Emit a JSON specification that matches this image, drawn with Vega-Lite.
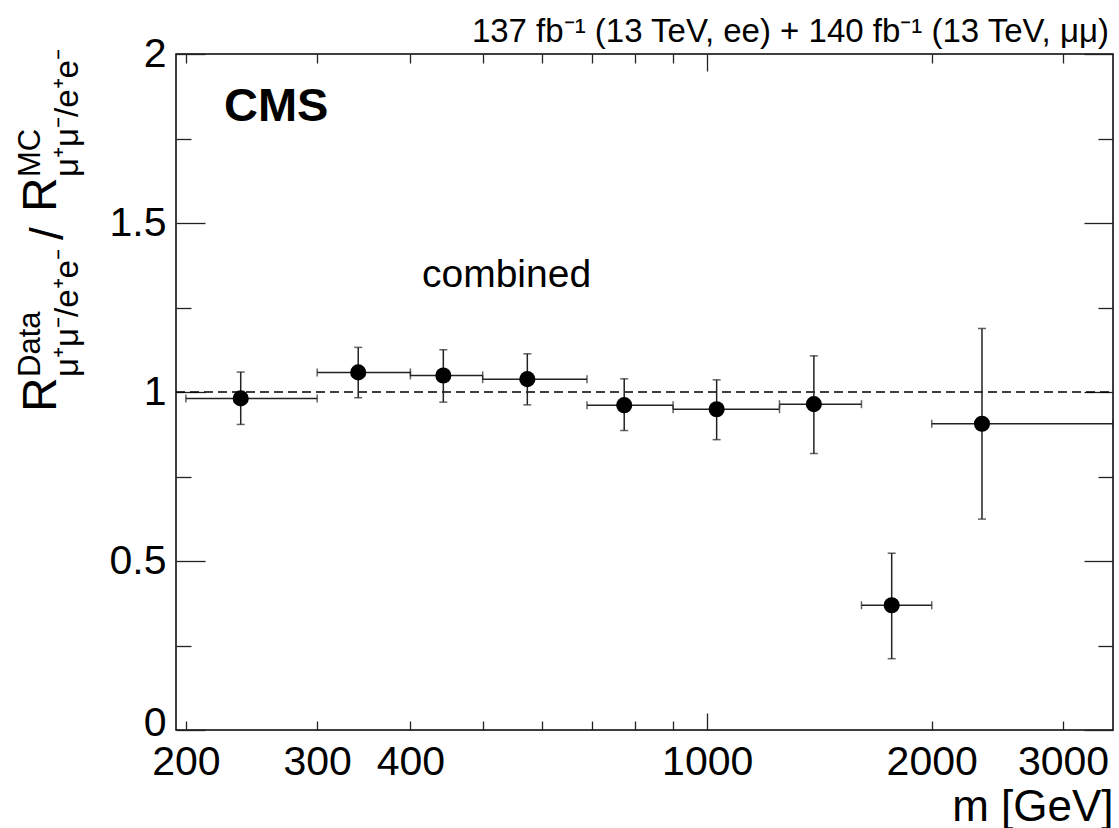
{
  "$schema": "https://vega.github.io/schema/vega-lite/v6.json",
  "autosize": {"type": "none"},
  "width": 937,
  "height": 676,
  "padding": {"left": 176, "top": 54, "right": 6, "bottom": 98},
  "background": "white",
  "config": {
    "view": {"stroke": "black", "strokeWidth": 1.5},
    "axis": {"domain": false, "grid": false, "tickColor": "#222", "tickWidth": 1.3, "labelFont": "Liberation Sans", "labelFontSize": 41, "labelColor": "black", "titleFont": "Liberation Sans", "titleColor": "black", "titleFontWeight": "normal"}
  },
  "datasets": {
    "pts": [
      {"m": 236.9, "lo_m": 200, "hi_m": 300, "r": 0.981, "r_lo": 0.904, "r_hi": 1.059},
      {"m": 340.5, "lo_m": 300, "hi_m": 400, "r": 1.058, "r_lo": 0.983, "r_hi": 1.132},
      {"m": 442.8, "lo_m": 400, "hi_m": 500, "r": 1.049, "r_lo": 0.970, "r_hi": 1.125},
      {"m": 573.9, "lo_m": 500, "hi_m": 690, "r": 1.038, "r_lo": 0.962, "r_hi": 1.113},
      {"m": 774, "lo_m": 690, "hi_m": 900, "r": 0.961, "r_lo": 0.886, "r_hi": 1.039},
      {"m": 1029.6, "lo_m": 900, "hi_m": 1250, "r": 0.949, "r_lo": 0.859, "r_hi": 1.036},
      {"m": 1390, "lo_m": 1250, "hi_m": 1610, "r": 0.964, "r_lo": 0.818, "r_hi": 1.107},
      {"m": 1767.5, "lo_m": 1610, "hi_m": 2000, "r": 0.369, "r_lo": 0.211, "r_hi": 0.523},
      {"m": 2335.7, "lo_m": 2000, "hi_m": 3500, "r": 0.906, "r_lo": 0.624, "r_hi": 1.188}
    ]
  },
  "resolve": {"axis": {"x": "independent", "y": "independent"}},
  "layer": [
    {
      "data": {"values": [{}]},
      "mark": {"type": "rule", "strokeDash": [9, 5], "strokeWidth": 1.5, "color": "black"},
      "encoding": {
        "x": {"datum": 194, "type": "quantitative", "scale": {"type": "log", "domain": [194, 3500], "nice": false}, "axis": {"orient": "bottom", "values": [200, 300, 400, 1000, 2000, 3000], "format": "d", "ticks": false, "tickSize": 0, "labelPadding": 12, "labelFlush": false, "labelOverlap": false, "title": "m [GeV]", "titleFontSize": 44, "titleAnchor": "end", "titleAlign": "right", "titleBaseline": "alphabetic", "titleY": 90}},
        "x2": {"datum": 3500},
        "y": {"datum": 1, "type": "quantitative", "scale": {"domain": [0, 2], "nice": false, "zero": false}, "axis": {"orient": "left", "values": [0, 0.5, 1, 1.5, 2], "format": "~g", "ticks": false, "tickSize": 0, "labelPadding": 10, "labelOffset": {"condition": {"test": "datum.value == 0", "value": -7}, "value": 0}, "labelFlush": false, "labelOverlap": false, "title": null}}
      }
    },
    {
      "data": {"name": "pts"},
      "mark": {"type": "errorbar", "ticks": true, "size": 8, "thickness": 1.5, "color": "#222"},
      "encoding": {
        "x": {"field": "lo_m", "type": "quantitative", "axis": {"orient": "bottom", "values": [200, 300, 400, 500, 600, 700, 800, 900, 2000, 3000], "tickSize": -9, "labels": false, "title": null}},
        "x2": {"field": "hi_m"},
        "y": {"field": "r", "type": "quantitative", "axis": {"orient": "left", "values": [0, 0.5, 1, 1.5, 2], "tickSize": -29, "labels": false, "title": null}}
      }
    },
    {
      "data": {"name": "pts"},
      "mark": {"type": "errorbar", "ticks": true, "size": 8, "thickness": 1.5, "color": "#222"},
      "encoding": {
        "x": {"field": "m", "type": "quantitative", "axis": {"orient": "bottom", "values": [1000], "tickSize": -17, "labels": false, "title": null}},
        "y": {"field": "r_lo", "type": "quantitative", "axis": {"orient": "left", "values": [0.25, 0.75, 1.25, 1.75], "tickSize": -15, "labels": false, "title": null}},
        "y2": {"field": "r_hi"}
      }
    },
    {
      "data": {"name": "pts"},
      "mark": {"type": "point", "filled": true, "shape": "circle", "size": 260, "color": "black", "opacity": 1},
      "encoding": {
        "x": {"field": "m", "type": "quantitative", "axis": {"orient": "top", "values": [200, 300, 400, 500, 600, 700, 800, 900, 2000, 3000], "tickSize": -9, "labels": false, "title": null}},
        "y": {"field": "r", "type": "quantitative", "axis": {"orient": "right", "values": [0, 0.5, 1, 1.5, 2], "tickSize": -29, "labels": false, "title": null}}
      }
    },
    {
      "data": {"values": [{}]},
      "mark": {"type": "text", "text": "CMS", "font": "Liberation Sans", "fontSize": 47, "fontWeight": "bold", "align": "left", "baseline": "alphabetic", "color": "black"},
      "encoding": {
        "x": {"datum": 225, "type": "quantitative", "axis": {"orient": "top", "values": [1000], "tickSize": -17, "labels": false, "title": null}},
        "y": {"datum": 1.802, "type": "quantitative", "axis": {"orient": "right", "values": [0.25, 0.75, 1.25, 1.75], "tickSize": -15, "labels": false, "title": null}}
      }
    },
    {
      "data": {"values": [{}]},
      "mark": {"type": "text", "text": "137 fb⁻¹ (13 TeV, ee) + 140 fb⁻¹ (13 TeV, μμ)", "font": "Liberation Sans", "fontSize": 33, "align": "right", "baseline": "alphabetic", "color": "black"},
      "encoding": {
        "x": {"datum": 3456, "type": "quantitative", "axis": null},
        "y": {"datum": 2.0355, "type": "quantitative", "axis": null}
      }
    },
    {
      "data": {"values": [{}]},
      "mark": {"type": "text", "text": "combined", "font": "Liberation Sans", "fontSize": 39, "align": "left", "baseline": "alphabetic", "color": "black"},
      "encoding": {
        "x": {"datum": 414.6, "type": "quantitative", "axis": null},
        "y": {"datum": 1.311, "type": "quantitative", "axis": null}
      }
    },
    {
      "data": {"values": [{}]},
      "mark": {"type": "text", "text": "R", "font": "Liberation Sans", "fontSize": 48, "angle": 270, "align": "left", "baseline": "alphabetic", "color": "black"},
      "encoding": {
        "x": {"datum": 133.9, "type": "quantitative", "axis": null},
        "y": {"datum": 0.941, "type": "quantitative", "axis": null}
      }
    },
    {
      "data": {"values": [{}]},
      "mark": {"type": "text", "text": "Data", "font": "Liberation Sans", "fontSize": 31, "angle": 270, "align": "left", "baseline": "alphabetic", "color": "black"},
      "encoding": {
        "x": {"datum": 127.5, "type": "quantitative", "axis": null},
        "y": {"datum": 1.0444, "type": "quantitative", "axis": null}
      }
    },
    {
      "data": {"values": [{}]},
      "mark": {"type": "text", "text": "μ⁺μ⁻/e⁺e⁻", "font": "Liberation Sans", "fontSize": 33, "angle": 270, "align": "left", "baseline": "alphabetic", "color": "black"},
      "encoding": {
        "x": {"datum": 143.5, "type": "quantitative", "axis": null},
        "y": {"datum": 1.0444, "type": "quantitative", "axis": null}
      }
    },
    {
      "data": {"values": [{}]},
      "mark": {"type": "text", "text": "/", "font": "Liberation Sans", "fontSize": 46, "angle": 270, "align": "left", "baseline": "alphabetic", "color": "black"},
      "encoding": {
        "x": {"datum": 136.8, "type": "quantitative", "axis": null},
        "y": {"datum": 1.4497, "type": "quantitative", "axis": null}
      }
    },
    {
      "data": {"values": [{}]},
      "mark": {"type": "text", "text": "R", "font": "Liberation Sans", "fontSize": 48, "angle": 270, "align": "left", "baseline": "alphabetic", "color": "black"},
      "encoding": {
        "x": {"datum": 133.9, "type": "quantitative", "axis": null},
        "y": {"datum": 1.5325, "type": "quantitative", "axis": null}
      }
    },
    {
      "data": {"values": [{}]},
      "mark": {"type": "text", "text": "MC", "font": "Liberation Sans", "fontSize": 31, "angle": 270, "align": "left", "baseline": "alphabetic", "color": "black"},
      "encoding": {
        "x": {"datum": 127.5, "type": "quantitative", "axis": null},
        "y": {"datum": 1.636, "type": "quantitative", "axis": null}
      }
    },
    {
      "data": {"values": [{}]},
      "mark": {"type": "text", "text": "μ⁺μ⁻/e⁺e⁻", "font": "Liberation Sans", "fontSize": 33, "angle": 270, "align": "left", "baseline": "alphabetic", "color": "black"},
      "encoding": {
        "x": {"datum": 143.5, "type": "quantitative", "axis": null},
        "y": {"datum": 1.636, "type": "quantitative", "axis": null}
      }
    }
  ]
}
